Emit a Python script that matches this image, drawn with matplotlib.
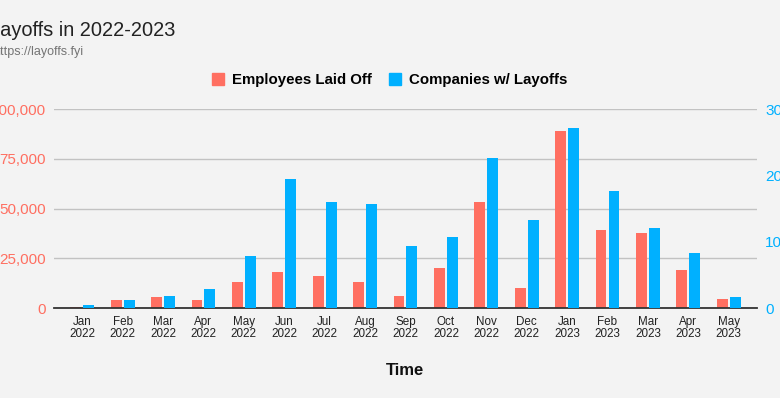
import matplotlib.pyplot as plt
import numpy as np
from matplotlib.patches import Patch
from matplotlib.ticker import FuncFormatter

plt.rcParams['font.family'] = ['Liberation Sans', 'DejaVu Sans']

months = ['Jan\n2022', 'Feb\n2022', 'Mar\n2022', 'Apr\n2022', 'May\n2022', 'Jun\n2022',
          'Jul\n2022', 'Aug\n2022', 'Sep\n2022', 'Oct\n2022', 'Nov\n2022', 'Dec\n2022',
          'Jan\n2023', 'Feb\n2023', 'Mar\n2023', 'Apr\n2023', 'May\n2023']
employees = [510, 3800, 5700, 4200, 13200, 18200, 16200, 13200, 6200, 20200,
             53300, 10200, 89000, 39300, 37800, 19200, 4700]
companies = [5, 12, 18, 29, 79, 195, 160, 157, 94, 107, 226, 133, 271, 177, 121, 83, 16]

red = '#ff6f61'
blue = '#00b0ff'
bg = '#f3f3f3'

fig = plt.figure(figsize=(7.8, 3.98), dpi=100, facecolor=bg)
ax = fig.add_axes([0.0692, 0.2261, 0.9013, 0.5])
ax2 = ax.twinx()
ax.set_facecolor(bg)
ax2.set_facecolor('none')

x = np.arange(len(months))
w = 0.27
ax.bar(x - 0.16, employees, width=w, color=red, zorder=3)
ax2.bar(x + 0.16, companies, width=w, color=blue, zorder=3)

ax.set_xlim(-0.7, len(months) - 0.3)
ax.set_ylim(0, 100000)
ax.set_yticks([0, 25000, 50000, 75000, 100000])
ax.yaxis.set_major_formatter(FuncFormatter(lambda v, p: f'{int(v):,}'))
ax2.set_ylim(0, 300)
ax2.set_yticks([0, 100, 200, 300])

ax.grid(axis='y', color='#c2c2c2', linewidth=1)
ax.set_axisbelow(True)

for a in (ax, ax2):
    for s in a.spines.values():
        s.set_visible(False)
ax2.spines['bottom'].set_visible(True)
ax2.spines['bottom'].set_color('#333333')
ax2.spines['bottom'].set_linewidth(1.3)

ax.set_xticks(x)
ax.set_xticklabels(months, fontsize=8.4, color='#222222', linespacing=1.0)
ax.tick_params(axis='x', length=0, pad=6)
ax.tick_params(axis='y', length=0, pad=6, labelsize=11, labelcolor=red)
ax2.tick_params(axis='y', length=0, pad=6, labelsize=11, labelcolor=blue)

ax.set_xlabel('Time', fontsize=12, fontweight='bold', color='#111111', labelpad=16)

fig.text(-0.014, 0.9095, 'Layoffs in 2022-2023', fontsize=14.4, color='#222222', va='baseline')
fig.text(-0.009, 0.862, 'https://layoffs.fyi', fontsize=9, color='#757575', va='baseline')

handles = [Patch(color=red, label='Employees Laid Off'),
           Patch(color=blue, label='Companies w/ Layoffs')]
fig.legend(handles=handles, loc='center', bbox_to_anchor=(0.4994, 0.799), ncol=2,
           frameon=False, prop={'weight': 'bold', 'size': 10.8},
           handlelength=0.8, handleheight=0.8, handletextpad=0.55, columnspacing=1.1)

fig.savefig('out.png', dpi=100, facecolor=bg)
